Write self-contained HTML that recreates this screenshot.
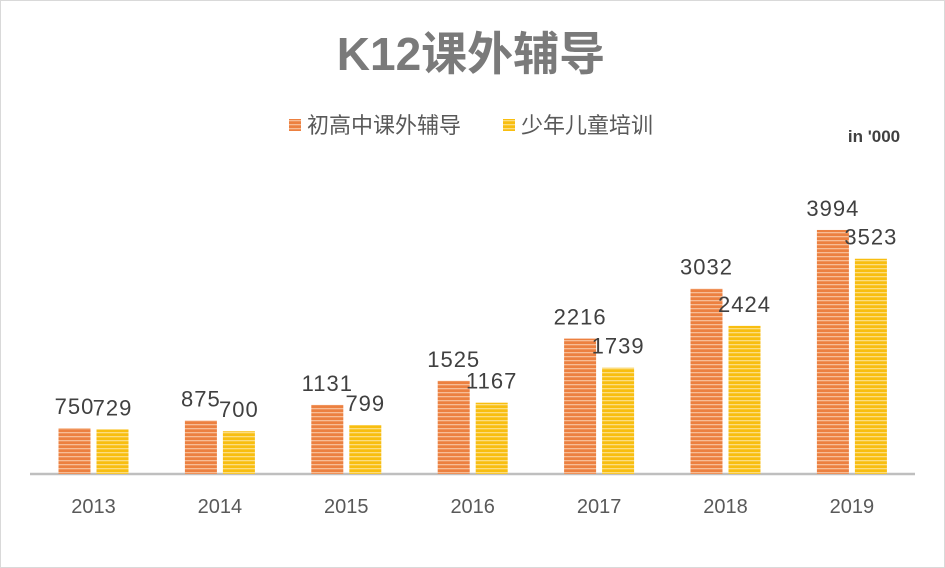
<!DOCTYPE html>
<html><head><meta charset="utf-8"><style>
body{margin:0;background:#fff}
svg{display:block;font-family:"Liberation Sans","Noto Sans CJK SC",sans-serif}
</style></head><body>
<svg id="c" width="945" height="568">
<defs>
<pattern id="po" width="4" height="4" patternUnits="userSpaceOnUse"><rect width="4" height="4" fill="#EC8040"/><rect width="4" height="1.3" fill="#F7BD96"/></pattern>
<pattern id="py" width="4" height="4" patternUnits="userSpaceOnUse"><rect width="4" height="4" fill="#F8BE10"/><rect width="4" height="1.3" fill="#FCDD80"/></pattern>
</defs>
<rect x="0.5" y="0.5" width="944" height="567" fill="#fff" stroke="#d9d9d9"/>
<text x="471" y="70" text-anchor="middle" font-size="46" font-weight="bold" fill="#7a7a7a">K12课外辅导</text>
<g>
<rect x="289" y="119" width="12" height="12" fill="url(#po)"/>
<text x="307" y="133" font-size="22" fill="#595959">初高中课外辅导</text>
<rect x="503" y="119" width="12" height="12" fill="url(#py)"/>
<text x="521" y="133" font-size="22" fill="#595959">少年儿童培训</text>
</g>
<text x="874" y="142" text-anchor="middle" font-size="17" font-weight="bold" fill="#404040">in '000</text>
<line x1="30" y1="474" x2="915" y2="474" stroke="#bfbfbf" stroke-width="2.5"/>
<g id="bars"></g>
</svg>
<script>
const categories=["2013","2014","2015","2016","2017","2018","2019"];
const seniorValues=[750,875,1131,1525,2216,3032,3994];
const juniorValues=[729,700,799,1167,1739,2424,3523];
const NS="http://www.w3.org/2000/svg";
const g=document.getElementById("bars");
const base=474, k=0.0611;
const xc=i=>93.5+i*126.4;
const y=v=>base-v*k;
function mk(t,a){const e=document.createElementNS(NS,t);for(const n in a)e.setAttribute(n,a[n]);g.appendChild(e);return e;}
categories.forEach((c,i)=>{
  const cx=xc(i);
  const b1=mk("rect",{x:cx-35,y:y(seniorValues[i]),width:32,height:seniorValues[i]*k,fill:"url(#po)"});
  
  
  const b2=mk("rect",{x:cx+3,y:y(juniorValues[i]),width:32,height:juniorValues[i]*k,fill:"url(#py)"});
  
  
  const t1=mk("text",{x:cx-19,y:y(seniorValues[i])-14,"text-anchor":"middle","font-size":"22","letter-spacing":"1",fill:"#404040"});
  t1.textContent=seniorValues[i];
  
  
  const t2=mk("text",{x:cx+19,y:y(juniorValues[i])-14,"text-anchor":"middle","font-size":"22","letter-spacing":"1",fill:"#404040"});
  t2.textContent=juniorValues[i];
  
  
  const tl=mk("text",{x:cx,y:513,"text-anchor":"middle","font-size":"20",fill:"#595959"});
  tl.textContent=c;
  
  
});
</script>
</body></html>
